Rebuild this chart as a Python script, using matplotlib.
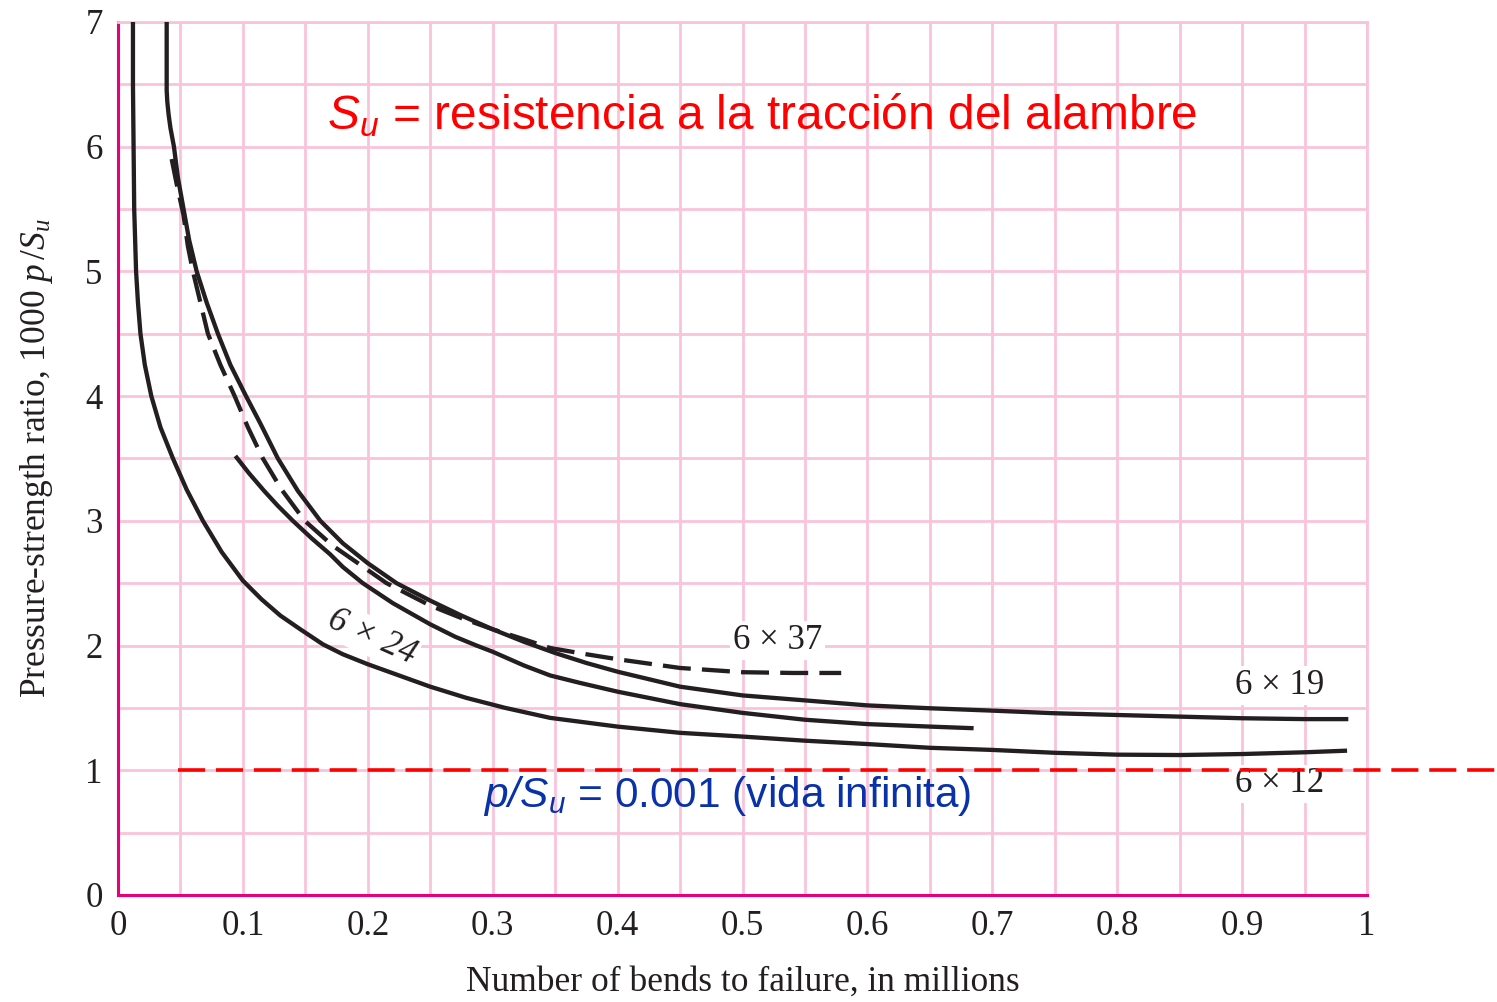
import numpy as np
import matplotlib
matplotlib.use("Agg")
import matplotlib.pyplot as plt

# curves (x in millions of bends, y = 1000 p/Su)
x_6x12 = [0.012, 0.012, 0.0125, 0.013, 0.0145, 0.016, 0.018, 0.0215, 0.0267, 0.034, 0.044,
          0.055, 0.068, 0.083, 0.1, 0.115, 0.13, 0.146, 0.164, 0.18, 0.2, 0.225, 0.25,
          0.279, 0.31, 0.346, 0.4, 0.45, 0.5, 0.55, 0.6, 0.65, 0.7, 0.75, 0.8, 0.85,
          0.9, 0.95, 0.984]
y_6x12 = [7.0, 6.5, 6.0, 5.5, 5.0, 4.75, 4.5, 4.25, 4.0, 3.75, 3.5,
          3.25, 3.0, 2.75, 2.52, 2.37, 2.24, 2.13, 2.01, 1.93, 1.85, 1.76, 1.67,
          1.58, 1.50, 1.42, 1.35, 1.30, 1.27, 1.237, 1.21, 1.18, 1.163, 1.14, 1.125, 1.122,
          1.13, 1.144, 1.157]

x_6x19 = [0.039, 0.039, 0.0395, 0.0405, 0.042, 0.0448, 0.048, 0.0525, 0.057, 0.063, 0.071,
          0.080, 0.09, 0.1025, 0.114, 0.128, 0.144, 0.162, 0.18, 0.2, 0.223, 0.25, 0.275,
          0.3, 0.325, 0.35, 0.375, 0.4, 0.45, 0.5, 0.55, 0.6, 0.65, 0.7, 0.75, 0.8, 0.85,
          0.9, 0.95, 0.985]
y_6x19 = [7.0, 6.45, 6.36, 6.26, 6.15, 6.0, 5.75, 5.5, 5.25, 5.0, 4.75,
          4.5, 4.25, 4.0, 3.78, 3.5, 3.24, 3.0, 2.82, 2.66, 2.5, 2.36, 2.24,
          2.13, 2.03, 1.94, 1.86, 1.79, 1.67, 1.60, 1.56, 1.52, 1.497, 1.478, 1.457, 1.443, 1.43,
          1.417, 1.41, 1.41]

x_6x24 = [0.094, 0.105, 0.117, 0.128, 0.14, 0.155, 0.17, 0.18, 0.196, 0.22, 0.25, 0.27,
          0.287, 0.3, 0.325, 0.346, 0.37, 0.4, 0.45, 0.5, 0.55, 0.6, 0.65, 0.685]
y_6x24 = [3.52, 3.38, 3.24, 3.12, 3.0, 2.86, 2.73, 2.63, 2.5, 2.34, 2.17, 2.07,
          2.0, 1.95, 1.84, 1.76, 1.70, 1.63, 1.53, 1.46, 1.405, 1.37, 1.35, 1.337]

x_6x37 = [0.043, 0.047, 0.0525, 0.056, 0.060, 0.066, 0.072, 0.082, 0.0934, 0.104, 0.116,
          0.131, 0.1495, 0.172, 0.195, 0.215, 0.25, 0.275, 0.3, 0.325, 0.346, 0.375,
          0.4, 0.45, 0.5, 0.54, 0.579]
y_6x37 = [5.9, 5.7, 5.45, 5.2, 5.0, 4.75, 4.5, 4.25, 4.0, 3.75, 3.5,
          3.25, 3.0, 2.8, 2.64, 2.5, 2.32, 2.22, 2.13, 2.05, 1.98, 1.93,
          1.89, 1.82, 1.786, 1.78, 1.78]

x_limit = [0.048, 1.104]
y_limit = [1.0, 1.0]

x_ticklabels = ["0", "0.1", "0.2", "0.3", "0.4", "0.5", "0.6", "0.7", "0.8", "0.9", "1"]
y_ticklabels = ["0", "1", "2", "3", "4", "5", "6", "7"]

plt.rcParams['mathtext.fontset'] = 'custom'
plt.rcParams['mathtext.rm'] = 'Liberation Serif'
plt.rcParams['mathtext.it'] = 'Liberation Serif:italic'
plt.rcParams['mathtext.sf'] = 'Liberation Sans:italic'

ink = '#231f20'
grid_pink = '#f9c3da'
magenta = '#e6007e'
serif = 'Liberation Serif'
sans = 'Liberation Sans'

fig = plt.figure(figsize=(14.97, 10.02), dpi=100)
ax = fig.add_axes([0.0788, 0.1068, 0.8344, 0.8714])

ax.set_xlim(0, 1)
ax.set_ylim(0, 7)
ax.set_xticks(np.arange(0, 1.0001, 0.05))
ax.set_yticks(np.arange(0, 7.0001, 0.5))
ax.grid(True, color=grid_pink, linewidth=2.0, zorder=0)
ax.set_axisbelow(True)
ax.tick_params(length=0, labelsize=25, labelcolor=ink, pad=11)

# labels only every 0.1 / 1
ax.set_xticklabels([x_ticklabels[i // 2] if i % 2 == 0 else "" for i in range(21)],
                   fontfamily=serif)
ax.set_yticklabels([y_ticklabels[i // 2] if i % 2 == 0 else "" for i in range(15)],
                   fontfamily=serif)

for side in ['left', 'bottom']:
    ax.spines[side].set_color(magenta)
    ax.spines[side].set_linewidth(2.2)
for side in ['top', 'right']:
    ax.spines[side].set_color(grid_pink)
    ax.spines[side].set_linewidth(2.0)

lw = 3.1
kw = dict(color=ink, lw=lw, solid_capstyle='butt', solid_joinstyle='round', zorder=3)
ax.plot(x_6x12, y_6x12, **kw)
ax.plot(x_6x19, y_6x19, **kw)
ax.plot(x_6x24, y_6x24, **kw)
ax.plot(x_6x37, y_6x37, color=ink, lw=lw, linestyle=(0, (6.5, 2.6)),
        dash_joinstyle='round', zorder=3)

ax.plot(x_limit, y_limit, color='red', lw=2.6, linestyle=(0, (7.5, 3.0)),
        clip_on=False, zorder=5)

box = dict(facecolor='white', edgecolor='none', pad=2)
ax.text(0.528, 2.04, "6 × 37", fontsize=25, fontfamily=serif, color=ink,
        ha='center', va='center', bbox=box, zorder=4)
ax.text(0.93, 1.68, "6 × 19", fontsize=25, fontfamily=serif, color=ink,
        ha='center', va='center', bbox=box, zorder=4)
ax.text(0.93, 0.89, "6 × 12", fontsize=25, fontfamily=serif, color=ink,
        ha='center', va='center', bbox=box, zorder=4)
ax.text(0.203, 2.07, "6 × 24", fontsize=25, fontfamily=serif, color=ink, style='italic',
        ha='center', va='center', rotation=-24, bbox=box, zorder=4)

ax.text(0.516, 6.25, r"$\mathsf{S_u}$ = resistencia a la tracción del alambre",
        fontsize=34.5, fontfamily=sans, color='#ff0000', ha='center', va='center', zorder=6)
ax.text(0.488, 0.79, r"$\mathsf{p/S_u}$ = 0.001 (vida infinita)",
        fontsize=30.5, fontfamily=sans, color='#0a32a8', ha='center', va='center', zorder=6)

ax.set_xlabel("Number of bends to failure, in millions", fontsize=25.5,
              fontfamily=serif, color=ink, labelpad=16)
ax.set_ylabel(r"Pressure-strength ratio, 1000 $p\,/S_u$", fontsize=25.5,
              fontfamily=serif, color=ink, labelpad=22)

fig.savefig("out.png", dpi=100)
